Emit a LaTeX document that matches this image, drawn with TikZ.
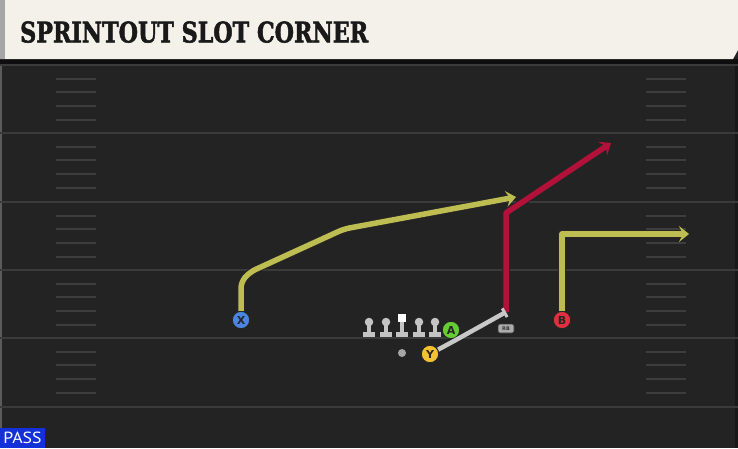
\documentclass[tikz,border=0pt]{standalone}
\usepackage{fontspec}
\usetikzlibrary{arrows.meta}
\newfontfamily\titlefont{DejaVu Serif}[FakeBold=2]
\newfontfamily\labfont{DejaVu Sans}
\newfontfamily\passfont{PT Sans}
\definecolor{field}{HTML}{232323}
\definecolor{cream}{HTML}{F4F1EA}
\definecolor{yardline}{HTML}{3A3A3A}
\definecolor{hashc}{HTML}{3D3D3D}
\definecolor{routey}{HTML}{BEBD52}
\definecolor{router}{HTML}{B3113A}
\definecolor{routeg}{HTML}{C8C8C8}
\definecolor{pblue}{HTML}{4A86E0}
\definecolor{pgreen}{HTML}{66CC33}
\definecolor{pyellow}{HTML}{F2C230}
\definecolor{pred}{HTML}{E0303F}
\definecolor{passblue}{HTML}{1430D8}
\definecolor{lineman}{HTML}{C4C4C4}
\tikzset{
  player/.style={circle, draw=black!85, line width=1pt, minimum size=17.5pt, inner sep=0pt,
    font=\labfont\bfseries\fontsize{11}{11}\selectfont, text=black!85},
  route/.style={line width=5.5pt, line join=round, line cap=butt,
    preaction={draw=black!85, line width=7.5pt}},
  routetip/.style={-{Stealth[length=10pt,width=16pt,inset=4pt]}},
  yardl/.style={draw=yardline, line width=2pt},
  hashl/.style={draw=hashc, line width=1.8pt},
}
\begin{document}
\begin{tikzpicture}[x=1pt,y=-1pt]
\useasboundingbox (0,0) rectangle (738,448);
% field
\fill[field] (0,0) rectangle (738,448);
\fill[black!60!field] (0,59) rectangle (738,64);
\fill[black!30!field] (735,64) rectangle (738,448);
\fill[gray!60!field] (0,64) rectangle (2,448);
% yard lines
\foreach \y in {65,133,202,270,338,407} {
  \draw[yardl] (0,\y) -- (738,\y);
}
% hashes
\foreach \y in {65,133,202,270,338} {
  \foreach \d in {14,27,41,55} {
    \draw[hashl] (56,\y+\d) -- (96,\y+\d);
    \draw[hashl] (646,\y+\d) -- (686,\y+\d);
  }
}
% title bar
\fill[cream] (0,0) -- (738,0) -- (738,50) -- (733,59) -- (0,59) -- cycle;
\fill[gray!70] (0,0) rectangle (5,59);
\node[anchor=south west, inner sep=0pt, text=black!90] (title) at (20,43)
  {\resizebox{348pt}{21pt}{\titlefont\bfseries SPRINTOUT SLOT CORNER}};
% players
\node[player, fill=pblue] (X) at (241,320) {X};
\node[player, fill=pred] (B) at (562,320) {B};
\node[rectangle, rounded corners=2pt, fill=gray!65, draw=black!80, line width=0.6pt,
  minimum width=16pt, minimum height=9pt, inner sep=0pt,
  font=\labfont\bfseries\fontsize{5}{5}\selectfont, text=black!80] (RB) at (506,328.5) {RB};
\node[circle, fill=gray!70, minimum size=8pt, inner sep=0pt] (QB) at (402,353) {};
% linemen
\foreach \n/\x in {L1/369,L2/386,L4/419,L5/435} {
  \fill[lineman] (\x-6,332) rectangle (\x+6,336.5);
  \fill[lineman] (\x-1.8,322) rectangle (\x+1.8,333);
  \node[circle, fill=lineman, minimum size=8.5pt, inner sep=0pt] (\n) at (\x,322) {};
}
\fill[lineman] (402-6,332) rectangle (402+6,336.5);
\fill[lineman] (402-1.8,322) rectangle (402+1.8,333);
\node[rectangle, fill=white, minimum size=8.5pt, inner sep=0pt] (C) at (402,318) {};
% routes
\coordinate (Xc1) at (241,282);
\coordinate (Xc2) at (344,229);
\coordinate (Xend) at (516,197);
\draw[route, routey, routetip, rounded corners=6pt] (X.north) -- (Xc1) -- (250,272) -- (Xc2) -- (Xend);
\coordinate (Bc) at (562,234);
\coordinate (Bend) at (689,234);
\draw[route, routey, routetip] (B.north) -- (Bc) -- (Bend);
\coordinate (Rs) at (506,312);
\coordinate (Rc) at (506,213);
\coordinate (Rend) at (611,143);
\draw[route, router, routetip] (Rs) -- (Rc) -- (Rend);
\node[player, fill=pgreen] (A) at (451,330) {A};
\node[player, fill=pyellow] (Y) at (430,354) {Y};
\coordinate (Yk) at (454,341);
\draw[routeg, line width=4.5pt, -{Bar[width=10pt,line width=3pt]}] (Y) -- (Yk) -- (Rs);
% pass label
\fill[passblue] (0,428) rectangle (45,448);
\node[inner sep=0pt, text=white] (pass) at (22.5,438)
  {\resizebox{38pt}{11.5pt}{\passfont PASS}};
\end{tikzpicture}
\end{document}
